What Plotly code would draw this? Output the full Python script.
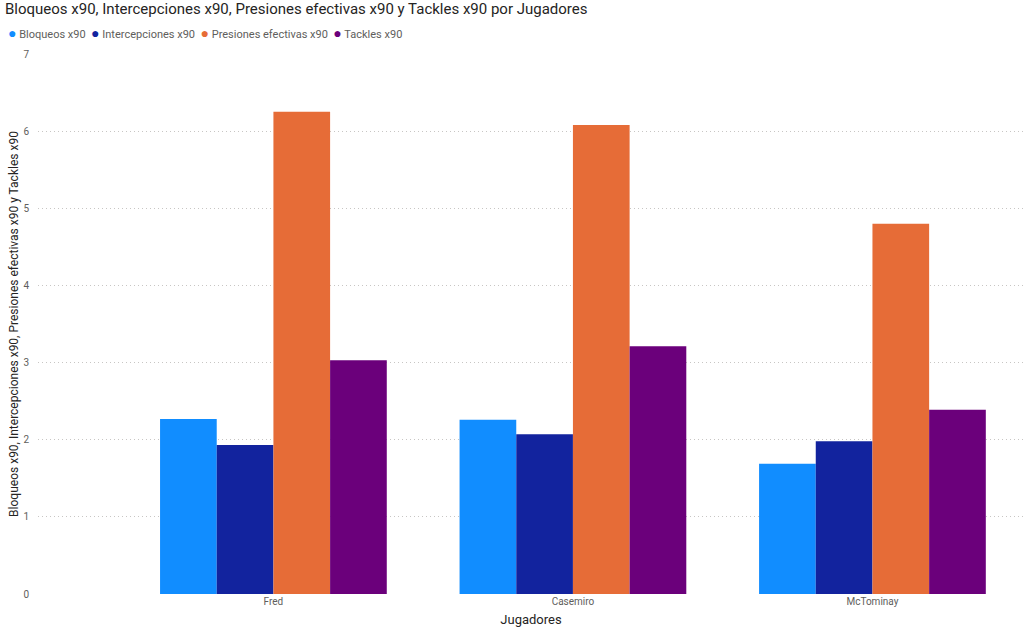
import plotly.graph_objects as go

jugadores = ["Fred", "Casemiro", "McTominay"]
bloqueos = [2.27, 2.26, 1.69]
intercepciones = [1.93, 2.07, 1.98]
presiones = [6.25, 6.08, 4.80]
tackles = [3.03, 3.21, 2.39]

series = [
    ("Bloqueos x90", bloqueos, "#118DFF"),
    ("Intercepciones x90", intercepciones, "#12239E"),
    ("Presiones efectivas x90", presiones, "#E66C37"),
    ("Tackles x90", tackles, "#6B007B"),
]

fig = go.Figure()
for name, vals, col in series:
    fig.add_trace(go.Bar(x=jugadores, y=vals, name=name, marker_color=col,
                         marker_line_width=0, showlegend=False))

legend_text = "  ".join(
    f"<span style='color:{col};font-size:14px'>●</span> {name}" for name, _, col in series
)
fig.add_annotation(text=legend_text, xref="paper", yref="paper",
                   x=-32/986, y=1 + 21/540, xanchor="left", yanchor="middle",
                   showarrow=False, font=dict(size=11, color="#605E5C"))

fig.update_layout(
    width=1024, height=631,
    paper_bgcolor="white", plot_bgcolor="white",
    barmode="group", bargap=0.243, bargroupgap=0,
    margin=dict(l=38, r=0, t=54, b=37),
    showlegend=False,
    font=dict(family="Roboto, Open Sans, sans-serif", color="#605E5C"),
    title=dict(text="Bloqueos x90, Intercepciones x90, Presiones efectivas x90 y Tackles x90 por Jugadores",
               xref="container", x=5/1024, xanchor="left", yref="container", y=1 - 1/631, yanchor="top",
               pad=dict(t=2), font=dict(size=15, color="#252423")),
    xaxis=dict(range=[-0.786, 2.506], showgrid=False, zeroline=False, showline=False,
               ticks="", automargin=False, tickfont=dict(size=10, color="#605E5C"),
               title=dict(text="Jugadores", font=dict(size=13, color="#252423"), standoff=8)),
    yaxis=dict(range=[0, 7], dtick=1, showgrid=True, gridcolor="#C8C6C4", griddash="1px,3px",
               gridwidth=1, zeroline=False, showline=False, ticks="", automargin=False,
               tickfont=dict(size=10, color="#605E5C"), ticklabelstandoff=8,
               title=dict(text="Bloqueos x90, Intercepciones x90, Presiones efectivas x90 y Tackles x90",
                          font=dict(size=12, color="#252423"), standoff=2)),
)
fig.write_html("out.html", post_script="document.body.style.margin='0';",
               config={"displayModeBar": False})
